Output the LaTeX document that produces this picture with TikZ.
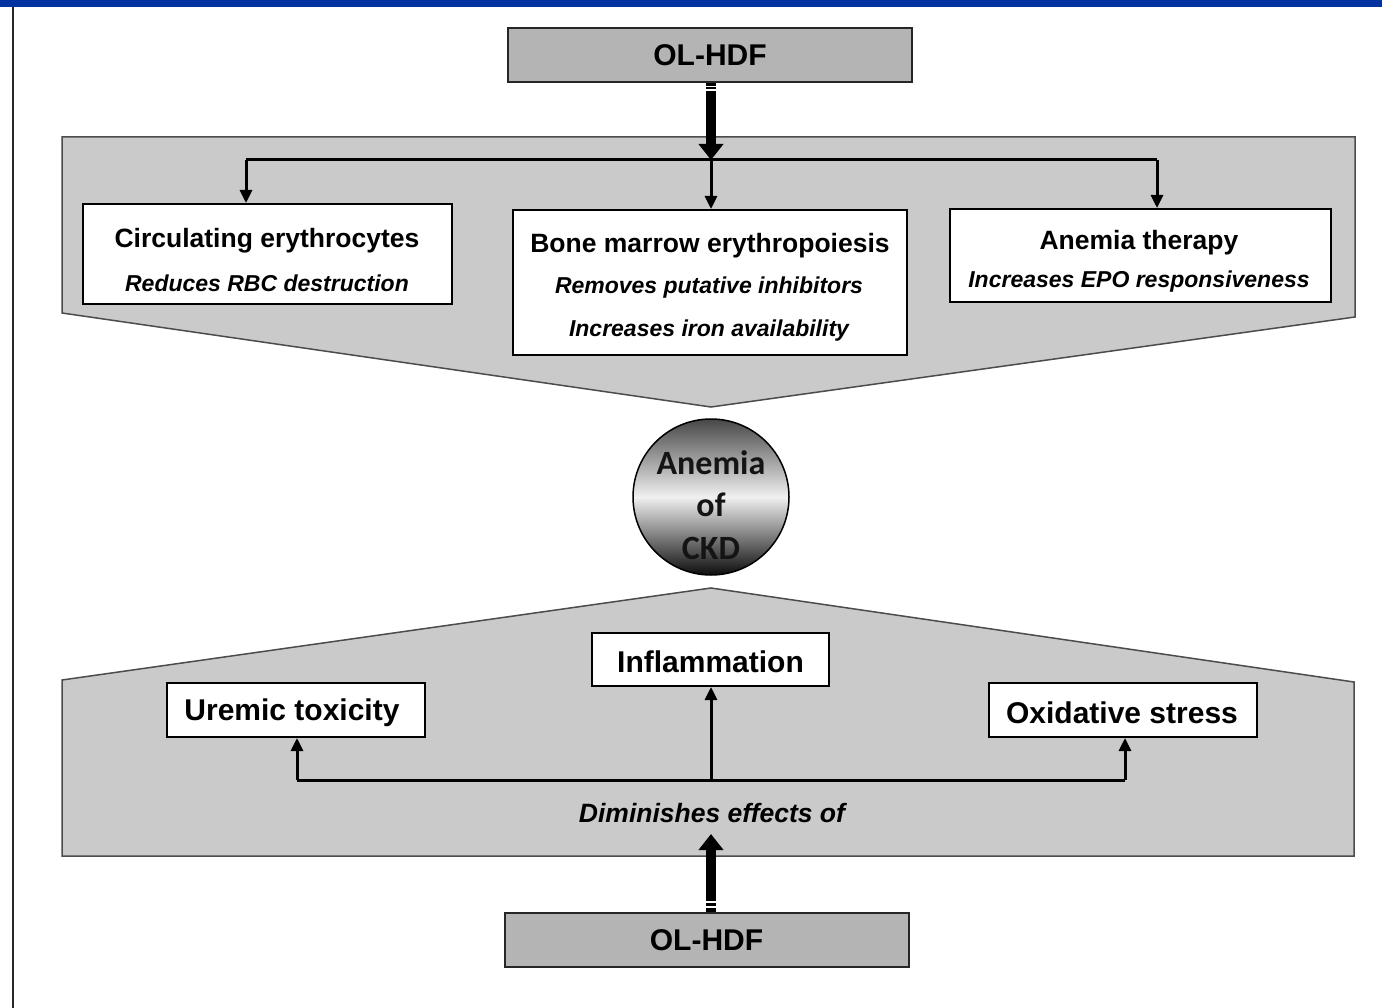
\documentclass[tikz,border=0pt]{standalone}
\usepackage{fontspec}
\setmainfont{Liberation Sans}
\newfontfamily\calibfont{Carlito}
\usetikzlibrary{arrows.meta}
\definecolor{topblue}{RGB}{0,51,160}
\definecolor{panelgray}{RGB}{202,202,202}
\definecolor{hdfgray}{RGB}{180,180,180}
\begin{document}
\begin{tikzpicture}[x=1pt,y=-1pt,
 panel/.style={draw=black!70, line width=1.5pt, fill=panelgray},
 hdf/.style={draw=black!85, line width=2pt, fill=hdfgray, minimum width=404pt, minimum height=54pt, inner sep=0pt, font=\bfseries\fontsize{30}{36}\selectfont},
 wbox/.style={draw=black, line width=2pt, fill=white, inner sep=0pt},
 ttl/.style={font=\bfseries\fontsize{26.5}{30}\selectfont, inner sep=0pt},
 big/.style={font=\bfseries\fontsize{30}{34}\selectfont, inner sep=0pt},
 sub/.style={font=\bfseries\itshape\fontsize{23}{27}\selectfont, inner sep=0pt},
 conn/.style={line width=3pt},
 arr/.style={line width=3pt, -{Triangle[width=12pt,length=13pt]}},
 bigarr/.style={line width=10pt, -{Triangle[width=24pt,length=16pt]}},
 stripe/.style={white, line width=1.2pt},
]
\useasboundingbox (0,0) rectangle (1382,1008);
\fill[white] (0,0) rectangle (1382,1008);
\fill[topblue] (0,0) rectangle (1382,7);
\draw[black!85, line width=2.2pt] (13,7) -- (13,1008);

% upper panel
\draw[panel] (62,137) -- (1355,137) -- (1355,317) -- (711,407) -- (62,313) -- cycle;
% lower panel
\draw[panel] (62,680) -- (711,588) -- (1354,682) -- (1354,856) -- (62,856) -- cycle;

% OL-HDF boxes
\node[hdf] (hdftop) at (710,55) {OL-HDF};
\node[hdf] (hdfbot) at (706.5,940) {OL-HDF};

% upper boxes
\node[wbox, minimum width=369pt, minimum height=100pt] (circ) at (267.5,254) {};
\node[ttl] (circt) at (267,241) {Circulating erythrocytes};
\node[sub] (circs) at (267,283) {Reduces RBC destruction};

\node[wbox, minimum width=394pt, minimum height=145pt] (bone) at (710,282.5) {};
\node[ttl] (bonet) at (710,246) {Bone marrow erythropoiesis};
\node[sub] (bones1) at (709,288) {Removes putative inhibitors};
\node[sub] (bones2) at (709,331) {Increases iron availability};

\node[wbox, minimum width=381pt, minimum height=93pt] (ther) at (1140,255.5) {};
\node[ttl] (thert) at (1139,243) {Anemia therapy};
\node[sub] (thers) at (1139,282) {Increases EPO responsiveness};

% distribution line
\coordinate (jtop) at (711,160);
\coordinate (jl) at (246,160);
\coordinate (jr) at (1157,160);
\draw[conn] (jl) -- (jr);
\draw[arr] (jl) -- (jl |- circ.north);
\draw[arr] (jtop) -- (jtop |- bone.north);
\draw[arr] (jr) -- (jr |- ther.north);
\draw[bigarr] (jtop |- hdftop.south) -- (jtop);
\draw[stripe] (706,86.5) -- (716,86.5);
\draw[stripe] (706,90) -- (716,90);

% circle
\node[circle, draw=black, line width=1.5pt, minimum size=156pt, inner sep=0pt,
  top color=black!72, bottom color=black!95, middle color=white!94!black] (anemia) at (711,497) {};
\node[align=center, inner sep=0pt, text=black!92,
  font=\calibfont\bfseries\fontsize{34}{42.5}\selectfont] (anemiat) at (711,505) {Anemia\\of\\CKD};

% lower boxes
\node[wbox, minimum width=237pt, minimum height=53pt] (infl) at (710.5,659.5) {};
\node[big] (inflt) at (710.5,662) {Inflammation};
\node[wbox, minimum width=258pt, minimum height=54pt] (urem) at (296,710) {};
\node[big] (uremt) at (292,713) {Uremic toxicity};
\node[wbox, minimum width=268pt, minimum height=54pt] (oxid) at (1123,710) {};
\node[big] (oxidt) at (1122,713) {Oxidative stress};

\coordinate (jbot) at (711,780);
\coordinate (kl) at (297,780);
\coordinate (kr) at (1125,780);
\draw[conn] (kl) -- (kr);
\draw[arr] (kl) -- (kl |- urem.south);
\draw[arr] (jbot) -- (jbot |- infl.south);
\draw[arr] (kr) -- (kr |- oxid.south);

\node[font=\bfseries\itshape\fontsize{26.5}{30}\selectfont, inner sep=0pt] (dimin) at (712,813) {Diminishes effects of};

\coordinate (dtip) at (711,834);
\draw[bigarr] (dtip |- hdfbot.north) -- (dtip);
\draw[stripe] (706,902) -- (716,902);
\draw[stripe] (706,907) -- (716,907);
\end{tikzpicture}
\end{document}
